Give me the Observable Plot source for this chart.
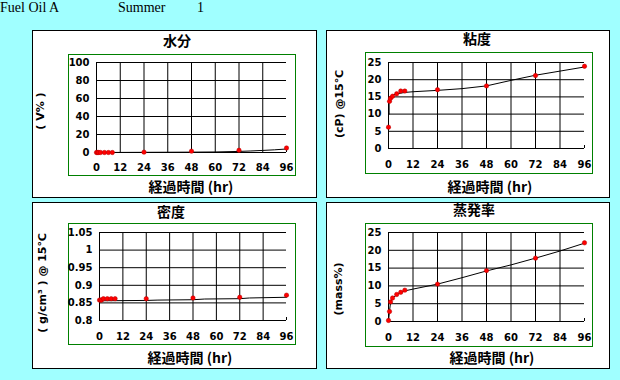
<!DOCTYPE html>
<html><head><meta charset="utf-8">
<script src="https://cdn.jsdelivr.net/npm/d3@7"></script>
<script src="https://cdn.jsdelivr.net/npm/@observablehq/plot@0.6"></script>
<style>
body{margin:0;background:#a0ffff;}
#root{position:relative;width:620px;height:380px;overflow:hidden;background:#a0ffff;}
.hdr{position:absolute;top:1px;font:14px "Liberation Serif",serif;line-height:14px;white-space:pre;color:#000;}
.panel{position:absolute;background:#fff;border:1px solid #000;}
.gbox{position:absolute;border:1px solid #008000;width:226px;background:#fff;}
.gbox svg{display:block;max-width:none;}
.t{position:absolute;transform:translate(-50%,-50%);font:bold 14px "Noto Sans CJK JP";line-height:1;white-space:nowrap;color:#000;}
.yl{position:absolute;transform:translate(-50%,-50%) rotate(-90deg);font:bold 11px "DejaVu Sans","Noto Sans CJK JP";line-height:1;white-space:pre;color:#000;}
</style></head>
<body><div id="root"></div>
<script>
// ---- data ----
const hours = [0, 0.5, 1, 2, 4, 6, 8, 24, 48, 72, 96];
const water = [0, 0, 0, 0, 0, 0, 0, 0.4, 1.5, 2.5, 5];
const viscosity = [6.2, 13.7, 14.6, 15.2, 15.9, 16.7, 16.7, 17.1, 18.2, 21.2, 23.9];
const density = [0.858, 0.858, 0.858, 0.862, 0.862, 0.862, 0.862, 0.862, 0.864, 0.866, 0.872];
const evaporation = [0.3, 2.8, 5.5, 6.6, 7.6, 8.2, 8.8, 10.5, 14.3, 17.8, 22.1];

// fitted curves as drawn in the reference
const waterFitHours = [0, 24, 48, 60, 72, 78, 84, 90, 96];
const waterFit = [0, 0.2, 0.4, 0.6, 1.2, 1.7, 2.3, 3.0, 3.9];
const viscFitHours = [0.3, 0.3, 1, 2, 4, 8, 12, 24, 36, 48, 60, 72, 84, 96];
const viscFit = [10, 14.5, 15.2, 15.5, 15.9, 16.3, 16.5, 16.9, 17.4, 18.2, 19.8, 21.3, 22.5, 23.7];
const densFitHours = [0, 24, 30, 48, 54, 72, 77, 96];
const densFit = [0.856, 0.857, 0.858, 0.859, 0.861, 0.862, 0.864, 0.866];
const evapFitHours = [0, 0.5, 1, 2, 4, 6, 8, 12, 24, 36, 48, 60, 72, 84, 96];
const evapFit = [0, 3, 5.3, 6.6, 7.5, 8.1, 8.6, 9.1, 10.5, 12.3, 14.2, 15.9, 17.8, 19.8, 22];

const xTicks = [0, 12, 24, 36, 48, 60, 72, 84, 96];
const waterTicks = [0, 20, 40, 60, 80, 100];
const viscTicks = [0, 5, 10, 15, 20, 25];
const densTicks = [0.8, 0.85, 0.9, 0.95, 1, 1.05];
const evapTicks = [0, 5, 10, 15, 20, 25];

const headerTexts = ["Fuel Oil A", "Summer", "1"];
const titles = ["水分", "粘度", "密度", "蒸発率"];
const xLabel = "経過時間 (hr)";
const yLabels = ["( V% )", "(cP) @15℃", "( g/cm³ ) @ 15℃", "(mass%)"];

// ---- layout ----
const root = document.getElementById("root");
function el(cls, css, text) {
  const d = document.createElement("div");
  d.className = cls;
  Object.assign(d.style, css);
  if (text != null) d.textContent = text;
  root.appendChild(d);
  return d;
}
el("hdr", {left: "0px"}, headerTexts[0]);
el("hdr", {left: "118px"}, headerTexts[1]);
el("hdr", {left: "197px"}, headerTexts[2]);

const panels = [
  {box: [32, 30, 283, 166], g: [68, 54, 120], m: [7, 9, 23, 27], xpad: 11, title: [177, 40], xl: [191, 186], yl: [40, 111],
   yTicks: waterTicks, pts: water, fx: waterFitHours, fy: waterFit},
  {box: [326, 30, 282, 166], g: [365, 52, 120], m: [9, 8, 25, 22], xpad: 12, title: [477, 38], xl: [490, 186], yl: [339, 104],
   yTicks: viscTicks, pts: viscosity, fx: viscFitHours, fy: viscFit},
  {box: [32, 202, 283, 165], g: [68, 223, 120], m: [8, 9, 24, 30], xpad: 12, title: [171, 211], xl: [190, 357], yl: [42, 283],
   yTicks: densTicks, pts: density, fx: densFitHours, fy: densFit},
  {box: [326, 202, 282, 165], g: [365, 223, 122], m: [8, 8, 25, 22], xpad: 12, title: [474, 209], xl: [492, 357], yl: [338, 289],
   yTicks: evapTicks, pts: evaporation, fx: evapFitHours, fy: evapFit}
];

panels.forEach((p, k) => {
  el("panel", {left: p.box[0] + "px", top: p.box[1] + "px", width: p.box[2] + "px", height: p.box[3] + "px"});
  el("t", {left: p.title[0] + "px", top: p.title[1] + "px"}, titles[k]);
  el("t", {left: p.xl[0] + "px", top: p.xl[1] + "px"}, xLabel);
  el("yl", {left: p.yl[0] + "px", top: p.yl[1] + "px"}, yLabels[k]);
  const g = el("gbox", {left: p.g[0] + "px", top: p.g[1] + "px", height: p.g[2] + "px"});
  const ymin = p.yTicks[0], ymax = p.yTicks[p.yTicks.length - 1];
  const points = hours.map((h, i) => ({h, v: p.pts[i]}));
  const fit = p.fx.map((h, i) => ({h, v: p.fy[i]}));
  const chart = Plot.plot({
    width: 226, height: p.g[2],
    marginTop: p.m[0], marginRight: p.m[1], marginBottom: p.m[2], marginLeft: p.m[3],
    style: {background: "transparent", fontFamily: "DejaVu Sans", fontSize: "10px", fontWeight: "bold", color: "#000", overflow: "visible"},
    x: {domain: [0, 96], ticks: xTicks, tickSize: 0, tickPadding: p.xpad, label: null, tickFormat: d => String(d)},
    y: {domain: [ymin, ymax], ticks: p.yTicks, tickSize: 0, tickPadding: 7, label: null, tickFormat: d => String(d)},
    marks: [
      Plot.ruleX(xTicks.slice(0, -1), {stroke: "#000", strokeWidth: 1}),
      Plot.ruleY(p.yTicks, {stroke: "#000", strokeWidth: 1}),
      Plot.ruleX([96], {y1: ymin, y2: ymin, insetBottom: 3, stroke: "#000"}),
      Plot.line(fit, {x: "h", y: "v", stroke: "#000", strokeWidth: 1}),
      Plot.dot(points, {x: "h", y: "v", r: 2.2, fill: "#ff0000", stroke: "#b00000", strokeWidth: 0.5})
    ]
  });
  g.appendChild(chart);
});
</script>
</body></html>
